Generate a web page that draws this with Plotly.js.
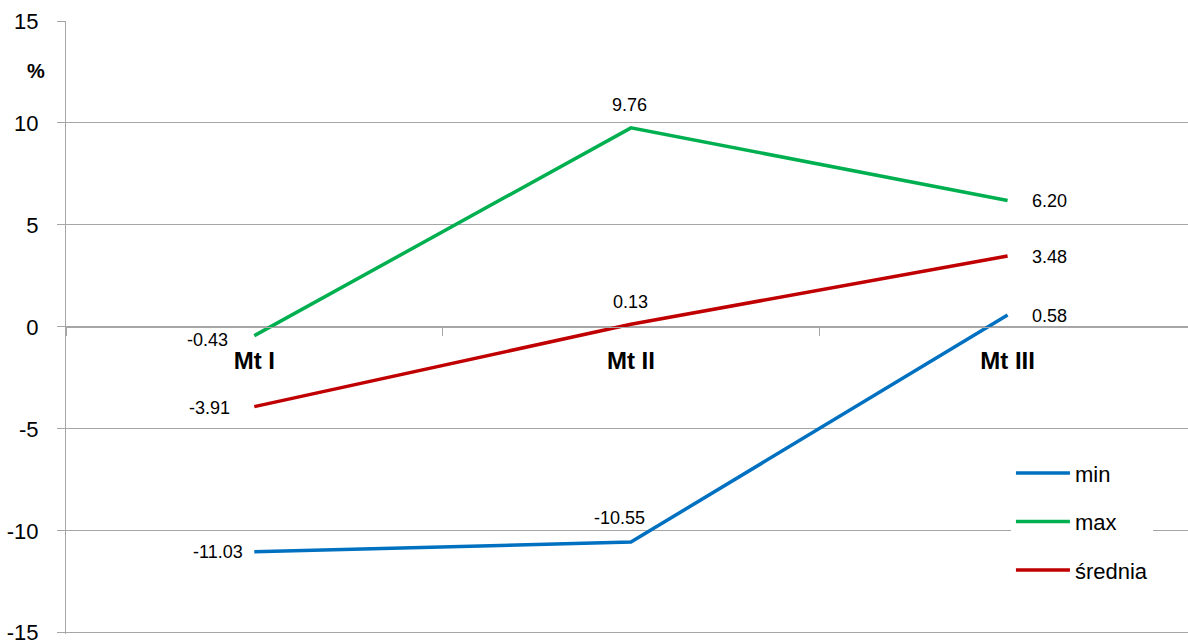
<!DOCTYPE html>
<html>
<head>
<meta charset="utf-8">
<script src="https://cdn.plot.ly/plotly-3.0.1.min.js"></script>
<style>
  html, body { margin: 0; padding: 0; background: #ffffff; overflow: hidden; }
  #chart { width: 1188px; height: 643px; }
</style>
</head>
<body>
<div id="chart"></div>
<script>
// Data: three measurement points and the min / max / mean change in %
const categories = ['Mt I', 'Mt II', 'Mt III'];
const minValues = [-11.03, -10.55, 0.58];
const maxValues = [-0.43, 9.76, 6.20];
const meanValues = [-3.91, 0.13, 3.48];
const seriesNames = ['min', 'max', 'średnia'];
const yTickValues = [-15, -10, -5, 0, 5, 10, 15];
const yAxisUnit = '%';

// Styling
const FONT = 'Liberation Sans, Arial, sans-serif';
const GRID = '#A6A6A6';
const colors = ['#0070C0', '#00B050', '#C00000'];
const seriesValues = [minValues, maxValues, meanValues];

// Value range; the lower end sits just below -15 so the bottom gridline is kept
const yRange = [-15.06, 15];

// Where each value label sits relative to its point (pixels)
const labelPlacement = [
  [ {xa: 'right', dx: -9, dy: 0},   {xa: 'center', dx: -11, dy: 24}, {xa: 'left', dx: 22, dy: -1} ],
  [ {xa: 'right', dx: -24, dy: -4}, {xa: 'center', dx: -1, dy: 23},  {xa: 'left', dx: 22, dy: -1} ],
  [ {xa: 'right', dx: -22, dy: -1}, {xa: 'center', dx: 0, dy: 22},   {xa: 'left', dx: 22, dy: -1} ]
];

const traces = seriesValues.map((vals, i) => ({
  type: 'scatter',
  mode: 'lines',
  x: categories,
  y: vals,
  name: seriesNames[i],
  legendgroup: 'g' + i,
  line: { color: colors[i], width: 3.5 },
  hoverinfo: 'skip',
  cliponaxis: false
}));

const annotations = [];
seriesValues.forEach((vals, i) => {
  vals.forEach((v, j) => {
    const p = labelPlacement[i][j];
    annotations.push({
      x: j, y: v, xref: 'x', yref: 'y',
      text: v.toFixed(2),
      showarrow: false,
      xanchor: p.xa, yanchor: 'middle',
      xshift: p.dx, yshift: p.dy,
      font: { family: FONT, size: 18, color: '#000000' }
    });
  });
});

const margin = { l: 66, r: 0, t: 21, b: 9, pad: 0 };
const figW = 1188, figH = 643;
const plotW = figW - margin.l - margin.r;
const plotH = figH - margin.t - margin.b;

// Unit label above the value axis
annotations.push({
  x: (36 - margin.l) / plotW,
  y: 1 - (71 - margin.t) / plotH,
  xref: 'paper', yref: 'paper',
  xanchor: 'center', yanchor: 'middle',
  text: yAxisUnit, showarrow: false,
  font: { family: FONT, size: 20, color: '#000000', weight: 'bold' }
});

const layout = {
  width: figW,
  height: figH,
  margin: margin,
  paper_bgcolor: '#ffffff',
  plot_bgcolor: '#ffffff',
  showlegend: true,
  font: { family: FONT, color: '#000000' },
  xaxis: {
    type: 'category',
    range: [-0.5, 2.479],
    anchor: 'free',
    // category axis crosses the value axis at 0
    position: (0 - yRange[0]) / (yRange[1] - yRange[0]),
    showline: true,
    linecolor: GRID,
    linewidth: 1,
    ticks: 'outside',
    ticklen: 8,
    tickwidth: 1,
    tickcolor: GRID,
    tickson: 'boundaries',
    showgrid: false,
    zeroline: false,
    automargin: false,
    ticklabelstandoff: 12,
    tickfont: { family: FONT, size: 24, color: '#000000', weight: 'bold' }
  },
  yaxis: {
    range: yRange,
    tickmode: 'array',
    tickvals: yTickValues,
    ticktext: yTickValues.map(String),
    showgrid: true,
    gridcolor: GRID,
    gridwidth: 1,
    showline: true,
    linecolor: GRID,
    linewidth: 1,
    ticks: 'outside',
    ticklen: 8,
    tickwidth: 1,
    tickcolor: GRID,
    zeroline: false,
    automargin: false,
    ticklabeloverflow: 'allow',
    ticklabelstandoff: 14,
    tickfont: { family: FONT, size: 22, color: '#000000' }
  },
  legend: {
    x: 0.8422, y: 0.2967,
    xanchor: 'left', yanchor: 'top',
    bgcolor: '#ffffff',
    borderwidth: 0,
    traceorder: 'grouped',
    tracegroupgap: 17,
    itemwidth: 54,
    font: { family: FONT, size: 22, color: '#000000' }
  },
  annotations: annotations
};

Plotly.newPlot('chart', traces, layout, { displayModeBar: false, staticPlot: true });
</script>
</body>
</html>
